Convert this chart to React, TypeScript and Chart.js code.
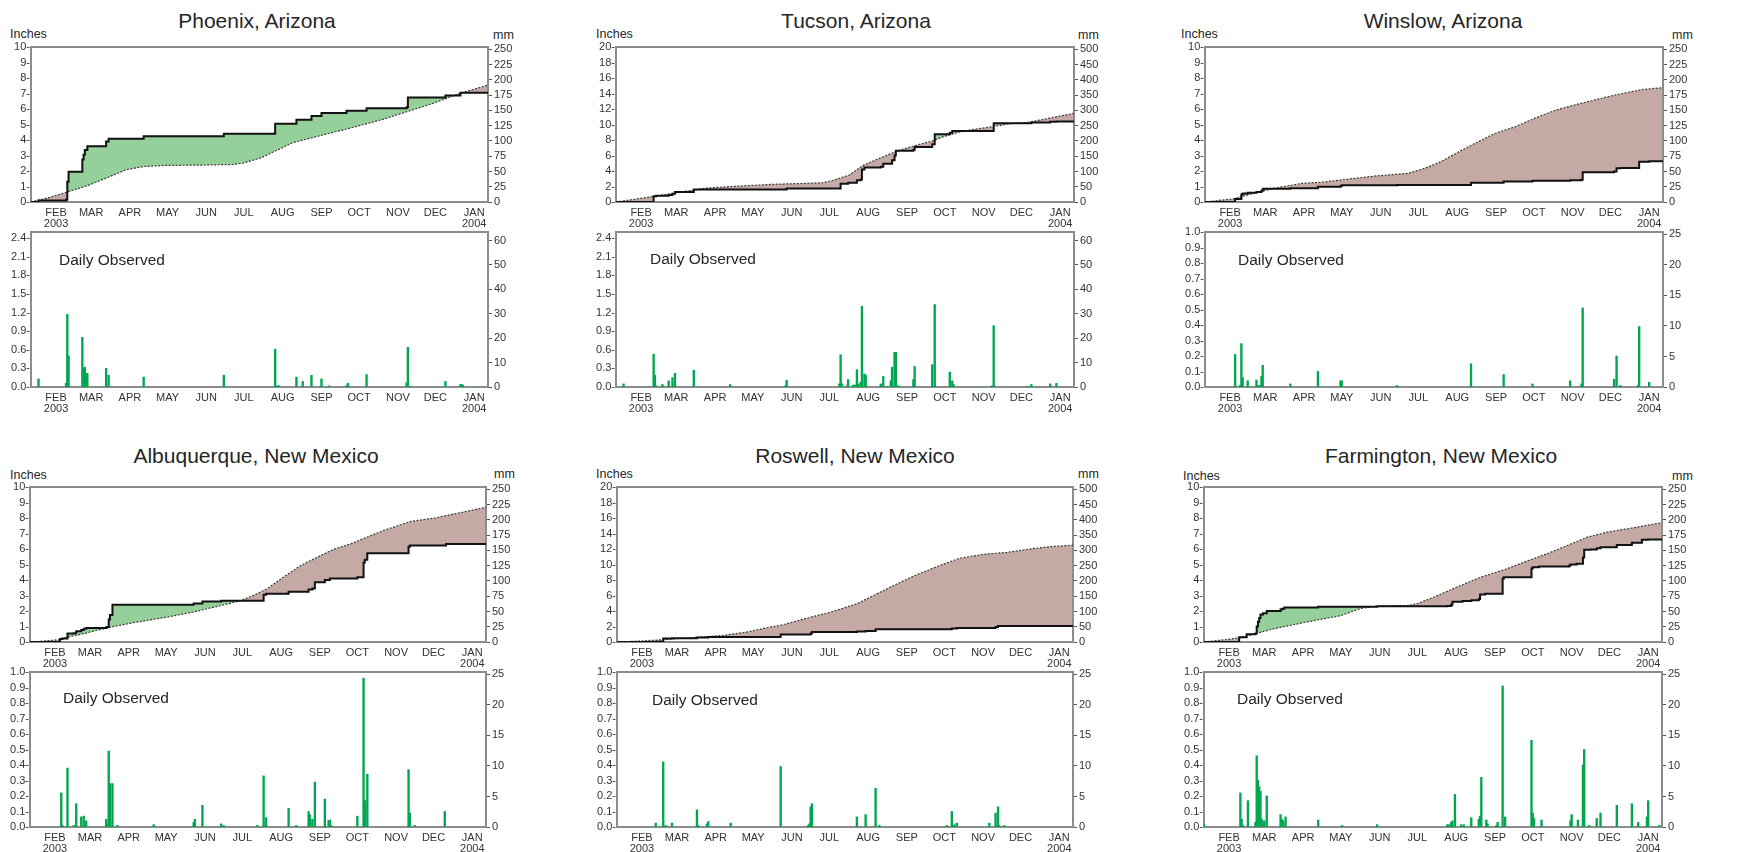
import React, { useEffect, useRef } from 'react';
import { Chart, registerables } from 'chart.js';

Chart.register(...registerables);

type Pt = [number, number];

// x = day index (0 = mid-January 2003, 365 = mid-January 2004)
const MONTH_DAYS = [20, 48, 79, 109, 140, 170, 201, 232, 262, 293, 323, 354];
const MONTH_LABELS = ['FEB', 'MAR', 'APR', 'MAY', 'JUN', 'JUL', 'AUG', 'SEP', 'OCT', 'NOV', 'DEC', 'JAN'];
const FIRST_YEAR = '2003';
const LAST_YEAR = '2004';

const INCH_TICKS_10 = [0, 1, 2, 3, 4, 5, 6, 7, 8, 9, 10];
const INCH_TICKS_20 = [0, 2, 4, 6, 8, 10, 12, 14, 16, 18, 20];
const MM_TICKS_250 = [0, 25, 50, 75, 100, 125, 150, 175, 200, 225, 250];
const MM_TICKS_500 = [0, 50, 100, 150, 200, 250, 300, 350, 400, 450, 500];
const DAILY_TICKS_24 = [0, 0.3, 0.6, 0.9, 1.2, 1.5, 1.8, 2.1, 2.4];
const DAILY_TICKS_10 = [0, 0.1, 0.2, 0.3, 0.4, 0.5, 0.6, 0.7, 0.8, 0.9, 1.0];
const DAILY_MM_60 = [0, 10, 20, 30, 40, 50, 60];
const DAILY_MM_25 = [0, 5, 10, 15, 20, 25];

// ---------------- Phoenix ----------------
const phoenixObserved: Pt[] = [[0, 0], [6, 0.1], [28, 0.15], [29, 1.3], [30, 1.95], [41, 2.75], [42, 3.05], [43, 3.35], [45, 3.6], [60, 3.9], [62, 4.08], [90, 4.25], [154, 4.4], [195, 5.05], [212, 5.3], [224, 5.55], [232, 5.75], [252, 5.88], [268, 6.05], [300, 6.12], [301, 6.75], [331, 6.87], [343, 7.05], [365, 7.05]];
const phoenixNormal: Pt[] = [[0, 0], [15, 0.3], [28, 0.62], [45, 1.05], [60, 1.54], [76, 2.08], [90, 2.29], [108, 2.36], [135, 2.38], [161, 2.42], [169, 2.5], [183, 2.83], [196, 3.32], [209, 3.83], [230, 4.26], [254, 4.75], [281, 5.33], [300, 5.82], [321, 6.36], [342, 7.0], [365, 7.54]];
const phoenixDaily: Pt[] = [[6, 0.13], [28, 0.06], [29, 1.17], [30, 0.5], [41, 0.8], [42, 0.3], [43, 0.32], [44, 0.22], [45, 0.22], [60, 0.3], [62, 0.19], [90, 0.16], [154, 0.19], [195, 0.61], [197, 0.02], [198, 0.02], [212, 0.16], [217, 0.09], [224, 0.19], [232, 0.13], [238, 0.02], [252, 0.02], [253, 0.06], [268, 0.2], [300, 0.07], [301, 0.64], [303, 0.01], [331, 0.09], [343, 0.04], [344, 0.04], [345, 0.03]];

// ---------------- Tucson ----------------
const tucsonObserved: Pt[] = [[0, 0], [30, 0.75], [32, 0.8], [42, 0.9], [45, 1.05], [47, 1.3], [62, 1.6], [136, 1.75], [179, 2.35], [185, 2.5], [192, 2.8], [195, 2.9], [196, 4.2], [198, 4.45], [211, 4.55], [213, 4.95], [220, 5.4], [222, 6.0], [223, 6.6], [237, 6.75], [238, 7.1], [252, 7.45], [254, 8.75], [266, 8.95], [268, 9.15], [301, 10.15], [331, 10.25], [346, 10.35], [351, 10.4], [365, 10.4]];
const tucsonNormal: Pt[] = [[0, 0], [15, 0.35], [32, 0.77], [59, 1.46], [72, 1.8], [99, 2.06], [125, 2.28], [152, 2.41], [165, 2.49], [173, 2.8], [186, 3.48], [197, 4.73], [210, 5.63], [224, 6.58], [237, 7.23], [252, 7.87], [261, 8.43], [272, 8.95], [285, 9.38], [300, 9.72], [314, 10.1], [327, 10.24], [341, 10.67], [365, 11.44]];
const tucsonDaily: Pt[] = [[6, 0.05], [30, 0.53], [31, 0.19], [32, 0.02], [37, 0.04], [42, 0.1], [45, 0.15], [47, 0.22], [62, 0.27], [91, 0.04], [135, 0.02], [136, 0.11], [178, 0.05], [179, 0.52], [180, 0.05], [184, 0.02], [185, 0.12], [189, 0.03], [190, 0.03], [191, 0.03], [192, 0.28], [193, 0.05], [195, 0.08], [196, 1.3], [198, 0.21], [199, 0.19], [211, 0.05], [213, 0.17], [216, 0.01], [219, 0.1], [220, 0.32], [222, 0.56], [223, 0.56], [225, 0.02], [237, 0.12], [238, 0.33], [252, 0.36], [254, 1.33], [266, 0.24], [268, 0.1], [269, 0.04], [299, 0.01], [300, 0.02], [301, 0.99], [328, 0.01], [331, 0.04], [346, 0.05], [351, 0.06]];

// ---------------- Winslow ----------------
const winslowObserved: Pt[] = [[0, 0], [24, 0.2], [29, 0.48], [30, 0.55], [34, 0.6], [41, 0.65], [45, 0.72], [46, 0.86], [68, 0.88], [90, 0.98], [108, 1.03], [109, 1.08], [153, 1.09], [212, 1.24], [238, 1.32], [261, 1.37], [291, 1.41], [300, 1.43], [301, 1.92], [326, 1.97], [328, 2.17], [331, 2.19], [345, 2.2], [346, 2.6], [354, 2.63], [365, 2.63]];
const winslowNormal: Pt[] = [[0, 0], [23, 0.21], [45, 0.69], [55, 0.88], [77, 1.2], [95, 1.29], [108, 1.42], [135, 1.67], [162, 1.85], [175, 2.17], [188, 2.6], [201, 3.18], [215, 3.78], [231, 4.42], [247, 4.85], [263, 5.41], [279, 5.92], [295, 6.27], [310, 6.57], [326, 6.89], [348, 7.25], [365, 7.38]];
const winslowDaily: Pt[] = [[24, 0.21], [28, 0.01], [29, 0.28], [30, 0.06], [34, 0.04], [41, 0.045], [42, 0.01], [44, 0.01], [45, 0.07], [46, 0.14], [68, 0.02], [90, 0.1], [108, 0.04], [109, 0.04], [153, 0.01], [212, 0.15], [238, 0.08], [261, 0.02], [291, 0.04], [300, 0.02], [301, 0.51], [326, 0.05], [328, 0.2], [331, 0.01], [345, 0.01], [346, 0.39], [354, 0.03]];

// ---------------- Albuquerque ----------------
const albuquerqueObserved: Pt[] = [[0, 0], [24, 0.2], [26, 0.22], [30, 0.55], [35, 0.57], [37, 0.7], [41, 0.77], [43, 0.85], [45, 0.9], [61, 0.95], [62, 0.97], [63, 1.45], [64, 1.75], [66, 2.4], [131, 2.48], [138, 2.62], [153, 2.66], [187, 3.05], [189, 3.12], [207, 3.25], [223, 3.38], [226, 3.45], [228, 3.85], [236, 4.0], [240, 4.1], [262, 4.17], [267, 5.13], [268, 5.3], [270, 5.72], [303, 6.15], [304, 6.22], [333, 6.32], [365, 6.32]];
const albuquerqueNormal: Pt[] = [[0, 0], [12, 0.07], [24, 0.15], [29, 0.3], [43, 0.54], [61, 0.9], [83, 1.25], [110, 1.61], [131, 1.94], [150, 2.3], [168, 2.65], [179, 3.01], [190, 3.44], [203, 4.19], [217, 4.95], [233, 5.59], [243, 5.98], [257, 6.34], [270, 6.77], [283, 7.2], [305, 7.78], [324, 8.0], [337, 8.22], [365, 8.69]];
const albuquerqueDaily: Pt[] = [[25, 0.22], [26, 0.01], [30, 0.38], [35, 0.01], [37, 0.15], [41, 0.065], [43, 0.07], [45, 0.04], [61, 0.05], [62, 0.02], [63, 0.49], [64, 0.28], [66, 0.28], [70, 0.01], [99, 0.015], [131, 0.03], [132, 0.05], [138, 0.14], [153, 0.02], [155, 0.01], [182, 0.01], [187, 0.33], [189, 0.06], [207, 0.12], [213, 0.01], [223, 0.1], [224, 0.08], [226, 0.05], [228, 0.29], [236, 0.18], [239, 0.04], [240, 0.045], [241, 0.01], [262, 0.07], [267, 0.96], [268, 0.17], [270, 0.34], [303, 0.37], [304, 0.09], [308, 0.01], [332, 0.1]];

// ---------------- Roswell ----------------
const roswellObserved: Pt[] = [[0, 0], [31, 0.03], [37, 0.45], [44, 0.47], [64, 0.58], [73, 0.63], [91, 0.66], [131, 0.98], [155, 1.1], [156, 1.3], [192, 1.36], [199, 1.42], [207, 1.65], [268, 1.75], [272, 1.82], [303, 1.92], [305, 2.05], [365, 2.05]];
const roswellNormal: Pt[] = [[0, 0], [20, 0.13], [37, 0.3], [59, 0.55], [85, 0.85], [104, 1.28], [120, 1.84], [133, 2.23], [152, 3.08], [171, 3.85], [192, 4.93], [208, 6.21], [224, 7.49], [240, 8.69], [258, 9.85], [274, 10.79], [293, 11.31], [312, 11.56], [330, 11.99], [346, 12.29], [365, 12.5]];
const roswellDaily: Pt[] = [[31, 0.025], [37, 0.42], [39, 0.01], [44, 0.025], [64, 0.11], [65, 0.01], [72, 0.02], [73, 0.035], [91, 0.025], [131, 0.39], [153, 0.01], [154, 0.02], [155, 0.13], [156, 0.15], [192, 0.065], [199, 0.08], [207, 0.25], [210, 0.01], [264, 0.01], [268, 0.1], [270, 0.015], [272, 0.025], [298, 0.025], [303, 0.09], [305, 0.13], [306, 0.01], [310, 0.01]];

// ---------------- Farmington ----------------
const farmingtonObserved: Pt[] = [[0, 0], [28, 0.3], [34, 0.5], [41, 0.55], [42, 1.0], [43, 1.3], [44, 1.55], [45, 1.78], [47, 1.85], [50, 2.0], [61, 2.1], [62, 2.15], [64, 2.22], [91, 2.27], [110, 2.28], [138, 2.3], [194, 2.32], [197, 2.4], [198, 2.6], [206, 2.65], [213, 2.7], [219, 2.78], [220, 3.07], [224, 3.12], [238, 4.1], [239, 4.17], [261, 4.75], [262, 4.82], [267, 4.87], [291, 4.92], [292, 5.0], [297, 5.05], [302, 5.45], [303, 5.95], [308, 5.97], [313, 6.05], [316, 6.12], [329, 6.26], [341, 6.4], [349, 6.6], [354, 6.62], [365, 6.62]];
const farmingtonNormal: Pt[] = [[0, 0], [14, 0.12], [28, 0.26], [42, 0.56], [56, 0.86], [83, 1.31], [109, 1.7], [125, 2.17], [136, 2.3], [163, 2.36], [171, 2.5], [184, 2.92], [202, 3.56], [221, 4.2], [240, 4.68], [258, 5.24], [274, 5.71], [290, 6.24], [306, 6.78], [322, 7.1], [343, 7.38], [365, 7.7]];
const farmingtonDaily: Pt[] = [[0, 0.02], [29, 0.22], [30, 0.05], [31, 0.01], [35, 0.17], [41, 0.03], [42, 0.46], [43, 0.3], [44, 0.26], [45, 0.23], [46, 0.05], [47, 0.01], [48, 0.04], [50, 0.2], [61, 0.08], [62, 0.05], [63, 0.04], [65, 0.065], [91, 0.045], [110, 0.01], [138, 0.015], [194, 0.015], [195, 0.015], [197, 0.03], [198, 0.04], [200, 0.21], [205, 0.015], [207, 0.015], [213, 0.06], [219, 0.05], [220, 0.07], [221, 0.32], [225, 0.045], [226, 0.02], [233, 0.01], [234, 0.03], [238, 0.91], [240, 0.065], [261, 0.56], [262, 0.09], [263, 0.055], [269, 0.045], [292, 0.04], [293, 0.08], [298, 0.045], [302, 0.4], [303, 0.5], [307, 0.01], [313, 0.055], [316, 0.09], [329, 0.14], [341, 0.15], [346, 0.03], [353, 0.065], [354, 0.17], [363, 0.01]];

// ---------------- styling ----------------
const GREEN_FILL = '#95cf99';
const BROWN_FILL = '#c5a9a4';
const BAR_GREEN = '#00a651';
const FRAME = '#8c8c8c';
const TEXT = '#262626';
const TICK_TEXT = '#333333';
const FONT = "'Liberation Sans', Arial, Helvetica, sans-serif";

const AX_L = 34;
const AX_R = 34;
const PAD_T = 10;
const AX_X = 32;
const PLOT_H = 155;

type PanelCfg = {
  title: string;
  left: number;
  right: number;
  cumTop: number;
  dailyTop: number;
  titleX: number;
  titleY: number;
  inchesX: number;
  inchesY: number;
  mmX: number;
  mmY: number;
  doX: number;
  doY: number;
  cumMax: number;
  cumTicks: number[];
  mmTicks: number[];
  dailyMax: number;
  dailyTicks: number[];
  dailyMmTicks: number[];
  observed: Pt[];
  normal: Pt[];
  daily: Pt[];
};

const PANELS: PanelCfg[] = [
  { title: 'Phoenix, Arizona', left: 31, right: 488, cumTop: 47, dailyTop: 232, titleX: 257, titleY: 20, inchesX: 10, inchesY: 34, mmX: 493, mmY: 35, doX: 59, doY: 260, cumMax: 10, cumTicks: INCH_TICKS_10, mmTicks: MM_TICKS_250, dailyMax: 2.5, dailyTicks: DAILY_TICKS_24, dailyMmTicks: DAILY_MM_60, observed: phoenixObserved, normal: phoenixNormal, daily: phoenixDaily },
  { title: 'Tucson, Arizona', left: 616, right: 1074, cumTop: 47, dailyTop: 232, titleX: 856, titleY: 20, inchesX: 596, inchesY: 34, mmX: 1078, mmY: 35, doX: 650, doY: 259, cumMax: 20, cumTicks: INCH_TICKS_20, mmTicks: MM_TICKS_500, dailyMax: 2.5, dailyTicks: DAILY_TICKS_24, dailyMmTicks: DAILY_MM_60, observed: tucsonObserved, normal: tucsonNormal, daily: tucsonDaily },
  { title: 'Winslow, Arizona', left: 1205, right: 1663, cumTop: 47, dailyTop: 232, titleX: 1443, titleY: 20, inchesX: 1181, inchesY: 34, mmX: 1672, mmY: 35, doX: 1238, doY: 260, cumMax: 10, cumTicks: INCH_TICKS_10, mmTicks: MM_TICKS_250, dailyMax: 1.0, dailyTicks: DAILY_TICKS_10, dailyMmTicks: DAILY_MM_25, observed: winslowObserved, normal: winslowNormal, daily: winslowDaily },
  { title: 'Albuquerque, New Mexico', left: 30, right: 486, cumTop: 487, dailyTop: 672, titleX: 256, titleY: 455, inchesX: 10, inchesY: 475, mmX: 494, mmY: 474, doX: 63, doY: 698, cumMax: 10, cumTicks: INCH_TICKS_10, mmTicks: MM_TICKS_250, dailyMax: 1.0, dailyTicks: DAILY_TICKS_10, dailyMmTicks: DAILY_MM_25, observed: albuquerqueObserved, normal: albuquerqueNormal, daily: albuquerqueDaily },
  { title: 'Roswell, New Mexico', left: 617, right: 1073, cumTop: 487, dailyTop: 672, titleX: 855, titleY: 455, inchesX: 596, inchesY: 474, mmX: 1078, mmY: 474, doX: 652, doY: 700, cumMax: 20, cumTicks: INCH_TICKS_20, mmTicks: MM_TICKS_500, dailyMax: 1.0, dailyTicks: DAILY_TICKS_10, dailyMmTicks: DAILY_MM_25, observed: roswellObserved, normal: roswellNormal, daily: roswellDaily },
  { title: 'Farmington, New Mexico', left: 1204, right: 1662, cumTop: 487, dailyTop: 672, titleX: 1441, titleY: 455, inchesX: 1183, inchesY: 476, mmX: 1672, mmY: 476, doX: 1237, doY: 699, cumMax: 10, cumTicks: INCH_TICKS_10, mmTicks: MM_TICKS_250, dailyMax: 1.0, dailyTicks: DAILY_TICKS_10, dailyMmTicks: DAILY_MM_25, observed: farmingtonObserved, normal: farmingtonNormal, daily: farmingtonDaily },
];

const framePlugin = {
  id: 'frame',
  beforeDatasetsDraw(chart: any) {
    const { ctx, chartArea: a } = chart;
    ctx.save();
    ctx.strokeStyle = FRAME;
    ctx.lineWidth = 2;
    ctx.strokeRect(a.left, a.top, a.right - a.left, a.bottom - a.top);
    ctx.restore();
  },
};

function xScale() {
  return {
    type: 'linear',
    min: 0,
    max: 365,
    offset: false,
    grid: { display: false, drawTicks: false, offset: false },
    border: { display: false },
    afterBuildTicks: (s: any) => {
      s.ticks = MONTH_DAYS.map((v) => ({ value: v }));
    },
    afterFit: (s: any) => {
      s.height = AX_X;
    },
    ticks: {
      autoSkip: false,
      maxRotation: 0,
      minRotation: 0,
      padding: 5,
      color: TICK_TEXT,
      font: { family: FONT, size: 11, lineHeight: 1.0 },
      callback: (_v: any, i: number) => {
        if (i === 0) return [MONTH_LABELS[0], FIRST_YEAR];
        if (i === MONTH_LABELS.length - 1) return [MONTH_LABELS[i], LAST_YEAR];
        return MONTH_LABELS[i];
      },
    },
  };
}

function leftScale(max: number, ticks: number[], decimals: number) {
  return {
    type: 'linear',
    position: 'left',
    min: 0,
    max,
    grid: { display: false, drawTicks: false },
    border: { display: false },
    afterBuildTicks: (s: any) => {
      s.ticks = ticks.map((v) => ({ value: v }));
    },
    afterFit: (s: any) => {
      s.width = AX_L;
    },
    ticks: {
      autoSkip: false,
      padding: 1,
      color: TICK_TEXT,
      font: { family: FONT, size: 11 },
      callback: (v: any) => Number(v).toFixed(decimals) + '-',
    },
  };
}

function rightScale(max: number, ticks: number[]) {
  return {
    type: 'linear',
    position: 'right',
    min: 0,
    max,
    grid: { display: true, drawOnChartArea: false, drawTicks: true, tickLength: 4, color: '#555555', lineWidth: 1 },
    border: { display: false },
    afterBuildTicks: (s: any) => {
      s.ticks = ticks.map((v) => ({ value: v }));
    },
    afterFit: (s: any) => {
      s.width = AX_R;
    },
    ticks: {
      autoSkip: false,
      padding: 2,
      color: TICK_TEXT,
      font: { family: FONT, size: 11 },
      callback: (v: any) => String(Math.round(Number(v))),
    },
  };
}

function Panel({ cfg }: { cfg: PanelCfg }) {
  const cumRef = useRef<HTMLCanvasElement | null>(null);
  const dailyRef = useRef<HTMLCanvasElement | null>(null);

  useEffect(() => {
    if (!cumRef.current || !dailyRef.current) return;
    const cum = new Chart(cumRef.current, {
      type: 'line',
      data: {
        datasets: [
          {
            label: 'Normal',
            data: cfg.normal.map(([x, y]) => ({ x, y })),
            borderColor: '#3a3a3a',
            borderWidth: 1.2,
            borderDash: [2, 1.5],
            pointRadius: 0,
            fill: false,
            order: 1,
          },
          {
            label: 'Observed',
            data: cfg.observed.map(([x, y]) => ({ x, y })),
            borderColor: '#111111',
            borderWidth: 2,
            stepped: true,
            pointRadius: 0,
            fill: { target: 0, above: GREEN_FILL, below: BROWN_FILL },
            order: 0,
          },
        ],
      } as any,
      options: {
        animation: false,
        responsive: false,
        events: [],
        layout: { padding: { top: PAD_T, left: 0, right: 0, bottom: 0 } },
        plugins: {
          legend: { display: false },
          tooltip: { enabled: false },
          filler: { drawTime: 'beforeDatasetsDraw' },
        },
        scales: {
          x: xScale(),
          y: leftScale(cfg.cumMax, cfg.cumTicks, 0),
          mm: rightScale(cfg.cumMax * 25.4, cfg.mmTicks),
        },
      } as any,
      plugins: [framePlugin],
    });

    const daily = new Chart(dailyRef.current, {
      type: 'bar',
      data: {
        datasets: [
          {
            label: 'Daily Observed',
            data: cfg.daily.map(([x, y]) => ({ x, y })),
            backgroundColor: BAR_GREEN,
            borderWidth: 0,
            barThickness: 1.7,
            grouped: false,
          },
        ],
      } as any,
      options: {
        animation: false,
        responsive: false,
        events: [],
        layout: { padding: { top: PAD_T, left: 0, right: 0, bottom: 0 } },
        plugins: { legend: { display: false }, tooltip: { enabled: false } },
        scales: {
          x: xScale(),
          y: leftScale(cfg.dailyMax, cfg.dailyTicks, 1),
          mm: rightScale(cfg.dailyMax * 25.4, cfg.dailyMmTicks),
        },
      } as any,
      plugins: [framePlugin],
    });

    return () => {
      cum.destroy();
      daily.destroy();
    };
  }, [cfg]);

  const plotW = cfg.right - cfg.left;
  const cw = AX_L + plotW + AX_R;
  const ch = PAD_T + PLOT_H + AX_X;

  const textBase: React.CSSProperties = {
    position: 'absolute',
    fontFamily: FONT,
    color: TEXT,
    whiteSpace: 'nowrap',
    lineHeight: 1,
  };

  return (
    <>
      <div style={{ ...textBase, left: cfg.titleX, top: cfg.titleY, fontSize: 21, transform: 'translate(-50%, -50%)' }}>{cfg.title}</div>
      <div style={{ ...textBase, left: cfg.inchesX, top: cfg.inchesY, fontSize: 12.5, transform: 'translateY(-50%)' }}>Inches</div>
      <div style={{ ...textBase, left: cfg.mmX, top: cfg.mmY, fontSize: 12.5, transform: 'translateY(-50%)' }}>mm</div>
      <canvas
        ref={cumRef}
        width={cw}
        height={ch}
        style={{ position: 'absolute', left: cfg.left - AX_L, top: cfg.cumTop - PAD_T, width: cw, height: ch }}
      />
      <canvas
        ref={dailyRef}
        width={cw}
        height={ch}
        style={{ position: 'absolute', left: cfg.left - AX_L, top: cfg.dailyTop - PAD_T, width: cw, height: ch }}
      />
      <div style={{ ...textBase, left: cfg.doX, top: cfg.doY, fontSize: 15.5, transform: 'translateY(-50%)' }}>Daily Observed</div>
    </>
  );
}

export default function App() {
  return (
    <div style={{ position: 'fixed', left: 0, top: 0, width: 1762, height: 852, background: '#ffffff', overflow: 'hidden' }}>
      {PANELS.map((p) => (
        <Panel key={p.title} cfg={p} />
      ))}
    </div>
  );
}
